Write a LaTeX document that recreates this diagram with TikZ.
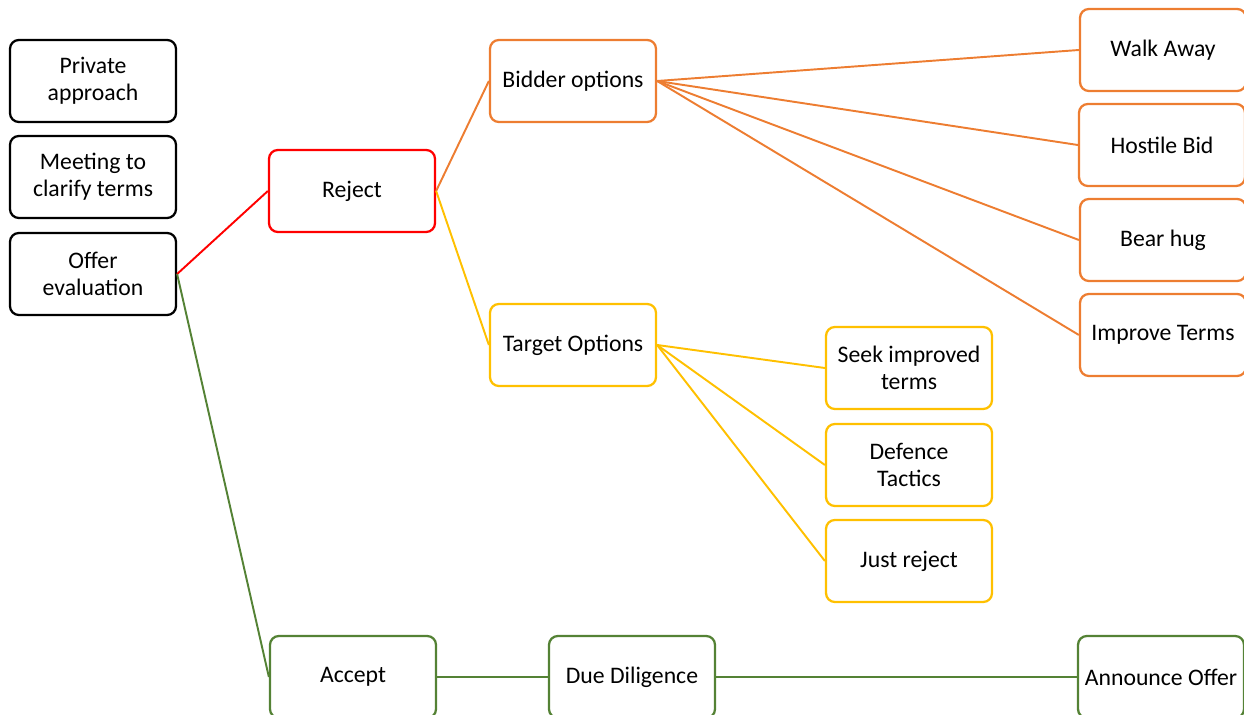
\documentclass[tikz,border=0pt]{standalone}
\usepackage{fontspec}
\setmainfont{Carlito}
\usepackage{tikz}
\usetikzlibrary{positioning}
\definecolor{rejred}{HTML}{FF0000}
\definecolor{bidorange}{HTML}{ED7D31}
\definecolor{targold}{HTML}{FFC000}
\definecolor{accgreen}{HTML}{548235}
\tikzset{
  box/.style={draw, rounded corners=5pt, line width=1.3pt, minimum width=3.32cm,
    minimum height=1.64cm, align=center, font=\fontsize{13.5}{15.4}\selectfont},
  link/.style={line width=1.1pt}
}

\begin{document}
\begin{tikzpicture}[x=0.02cm, y=-0.02cm]
  \useasboundingbox (0,0) rectangle (1244,715);
  \clip (0,0) rectangle (1244,715);
  % left column
  \node[box] (private) at (93,81) {Private\\approach};
  \node[box] (meeting) at (93,177) {Meeting to\\clarify terms};
  \node[box] (offer) at (93,274) {Offer\\evaluation};
  % reject branch
  \node[box, draw=rejred] (reject) at (352,191) {Reject};
  \node[box, draw=bidorange] (bidder) at (573,81) {Bidder options};
  \node[box, draw=targold] (target) at (573,345) {Target Options};
  \node[box, draw=bidorange] (walk) at (1163,50) {Walk Away};
  \node[box, draw=bidorange] (hostile) at (1162,145) {Hostile Bid};
  \node[box, draw=bidorange] (bear) at (1163,240) {Bear hug};
  \node[box, draw=bidorange] (improve) at (1163,335) {Improve Terms};
  \node[box, draw=targold] (seek) at (909,368) {Seek improved\\terms};
  \node[box, draw=targold] (defence) at (909,465) {Defence\\Tactics};
  \node[box, draw=targold] (justrej) at (909,561) {Just reject};
  % accept branch
  \node[box, draw=accgreen] (accept) at (353,677) {Accept};
  \node[box, draw=accgreen] (due) at (632,677) {Due Diligence};
  \node[box, draw=accgreen] (announce) at (1161,677) {Announce Offer};

  \draw[link, rejred] (offer.east) -- (reject.west);
  \draw[link, accgreen] (offer.east) -- (accept.west);
  \draw[link, bidorange] (reject.east) -- (bidder.west);
  \draw[link, targold] (reject.east) -- (target.west);
  \foreach \n in {walk, hostile, bear, improve}
    \draw[link, bidorange] (bidder.east) -- (\n.west);
  \foreach \n in {seek, defence, justrej}
    \draw[link, targold] (target.east) -- (\n.west);
  \draw[link, accgreen] (accept.east) -- (due.west);
  \draw[link, accgreen] (due.east) -- (announce.west);
\end{tikzpicture}
\end{document}
